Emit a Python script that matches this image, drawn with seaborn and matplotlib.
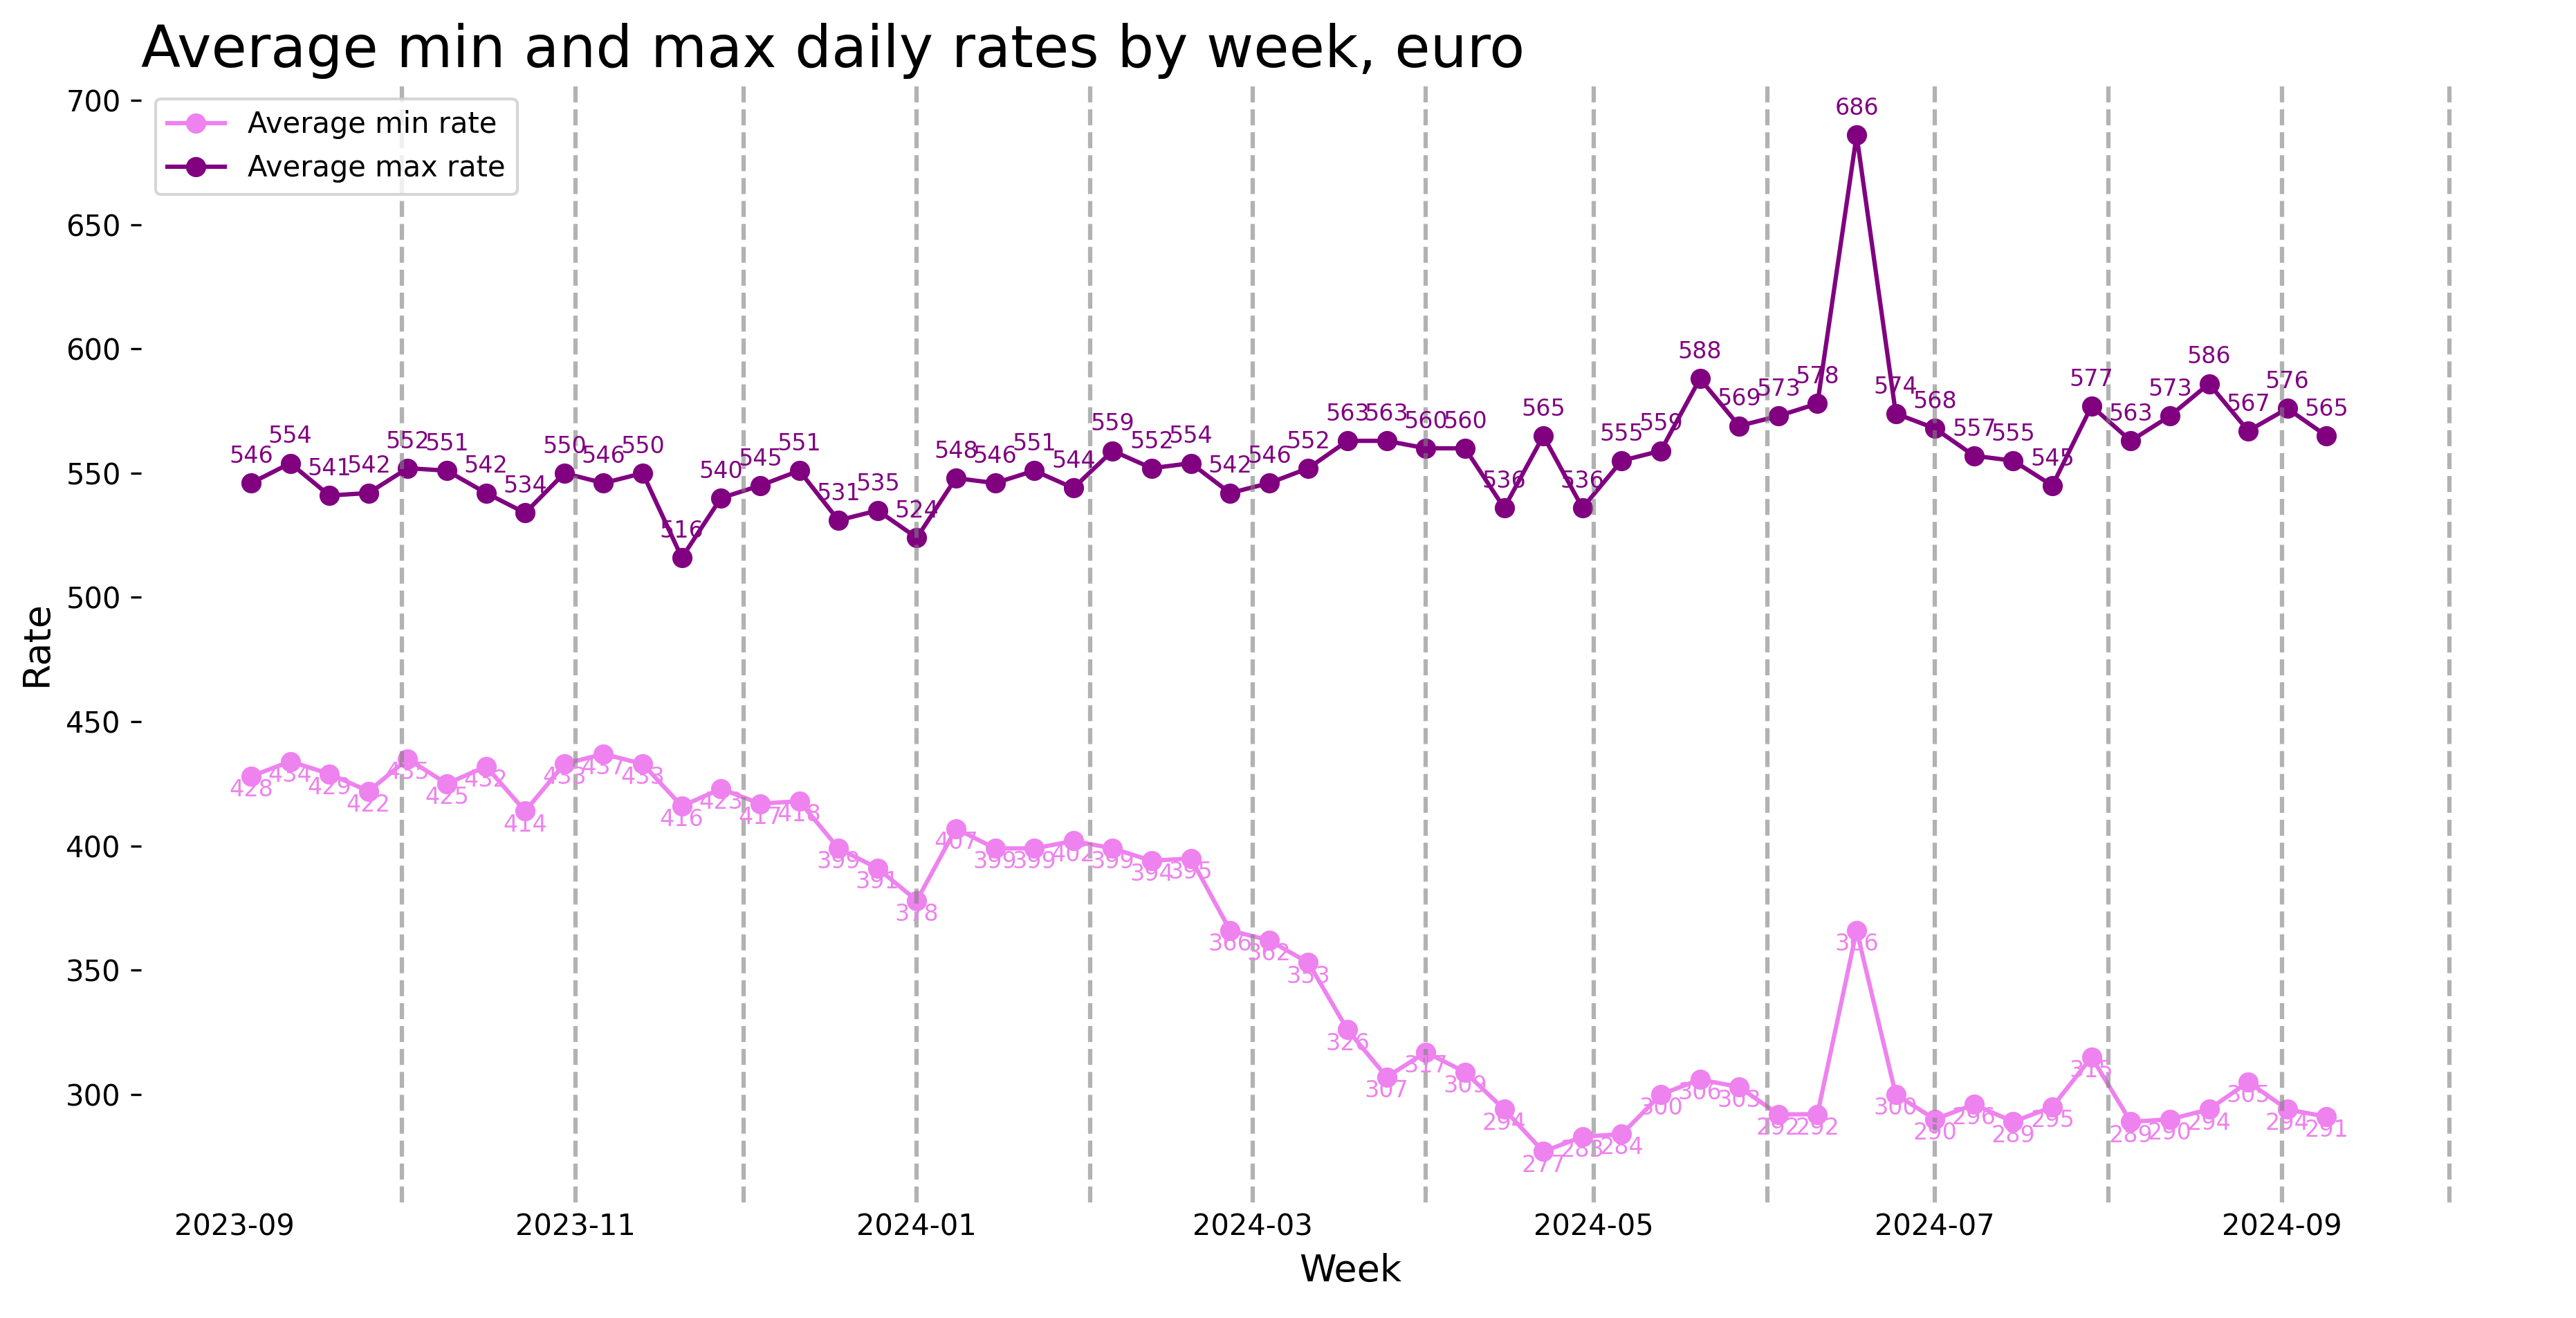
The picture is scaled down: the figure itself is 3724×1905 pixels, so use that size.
import matplotlib
matplotlib.use("Agg")
import matplotlib.pyplot as plt
import seaborn as sns
import pandas as pd

# ---- data ----
weeks = pd.date_range("2023-09-04", periods=54, freq="7D")

min_rate = [428, 434, 429, 422, 435, 425, 432, 414, 433, 437,
            433, 416, 423, 417, 418, 399, 391, 378, 407, 399,
            399, 402, 399, 394, 395, 366, 362, 353, 326, 307,
            317, 309, 294, 277, 283, 284, 300, 306, 303, 292,
            292, 366, 300, 290, 296, 289, 295, 315, 289, 290,
            294, 305, 294, 291]

max_rate = [546, 554, 541, 542, 552, 551, 542, 534, 550, 546,
            550, 516, 540, 545, 551, 531, 535, 524, 548, 546,
            551, 544, 559, 552, 554, 542, 546, 552, 563, 563,
            560, 560, 536, 565, 536, 555, 559, 588, 569, 573,
            578, 686, 574, 568, 557, 555, 545, 577, 563, 573,
            586, 567, 576, 565]

month_starts = pd.date_range("2023-10-01", "2024-10-01", freq="MS")

series_labels = ["Average min rate", "Average max rate"]
series_colors = ["violet", "purple"]

df = pd.DataFrame({"Week": weeks, "min": min_rate, "max": max_rate})

# ---- plot ----
plt.rcParams["font.family"] = ["DejaVu Sans"]
fig, ax = plt.subplots(figsize=(3724 / 300, 1905 / 300), dpi=300)
fig.subplots_adjust(left=0.0548, right=0.9936, top=0.936, bottom=0.0877)

for col, lab, c, dy in [("min", series_labels[0], series_colors[0], -7),
                        ("max", series_labels[1], series_colors[1], 7)]:
    sns.lineplot(data=df, x="Week", y=col, marker="o", color=c, label=lab,
                 ax=ax, markersize=6, markeredgewidth=1, markeredgecolor=c,
                 linewidth=1.5)
    for d, v in zip(df["Week"], df[col]):
        ax.annotate(str(v), (d, v), xytext=(0, dy), textcoords="offset points",
                    ha="center", fontsize=8, color=c)

for m in month_starts:
    ax.axvline(m, color="gray", linestyle="--", alpha=0.6, linewidth=1.5)

ax.set_title("Average min and max daily rates by week, euro", loc="left", fontsize=20)
ax.set_xlabel("Week", fontsize=13)
ax.set_ylabel("Rate", fontsize=13)
for s in ax.spines.values():
    s.set_visible(False)
ax.tick_params(axis="x", length=0)
ax.legend(loc="upper left")

fig.savefig("out.png", dpi=300)
